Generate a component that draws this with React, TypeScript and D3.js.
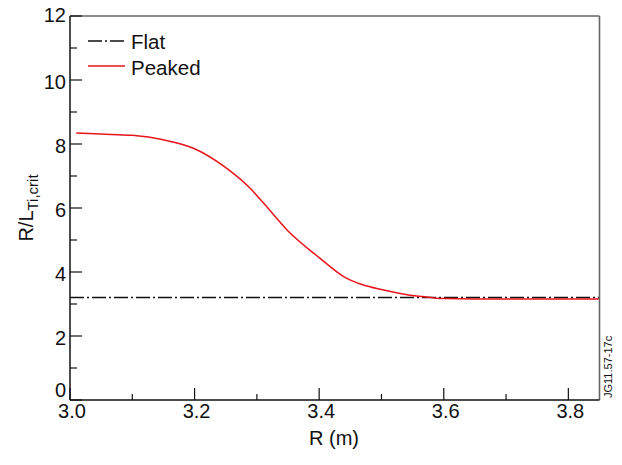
import React from "react";
import * as d3 from "d3";

const peakedR = [3.01, 3.05, 3.1, 3.15, 3.2, 3.25, 3.29, 3.31, 3.35, 3.4, 3.44, 3.47, 3.5, 3.53, 3.56, 3.58, 3.6, 3.65, 3.7, 3.8, 3.85];
const peakedV = [8.34, 8.31, 8.27, 8.13, 7.85, 7.26, 6.6, 6.17, 5.28, 4.45, 3.85, 3.6, 3.45, 3.33, 3.24, 3.2, 3.17, 3.16, 3.16, 3.16, 3.16];
const flatR = [3.0, 3.85];
const flatV = [3.2, 3.2];
const xMajor = [3.0, 3.2, 3.4, 3.6, 3.8];
const xMinor = [3.1, 3.3, 3.5, 3.7];
const yMajor = [0, 2, 4, 6, 8, 10, 12];
const yMinor = [1, 3, 5, 7, 9, 11];
const legendLabels = ["Flat", "Peaked"];

const W = 622, H = 465;
const L = 70, R = 599.5, T = 16, B = 400;
const FONT = "'Liberation Sans', Arial, Helvetica, sans-serif";

export default function App() {
  const x = d3.scaleLinear().domain([3.0, 3.85]).range([L, R]);
  const y = d3.scaleLinear().domain([0, 12]).range([B, T]);
  const line = d3.line<[number, number]>().x(d => x(d[0])).y(d => y(d[1])).curve(d3.curveMonotoneX);
  const peaked = peakedR.map((r, i) => [r, peakedV[i]] as [number, number]);
  const flat = flatR.map((r, i) => [r, flatV[i]] as [number, number]);
  const fs = 20;
  const yOff = (v: number) => (v === 0 ? -3 : v === 12 ? 6 : 9);
  return (
    <svg width={W} height={H} style={{ position: "absolute", left: 0, top: 0, fontFamily: FONT }}>
      <rect width={W} height={H} fill="#fff" />
      <defs>
        <clipPath id="clip"><rect x={L} y={T} width={R - L} height={B - T} /></clipPath>
      </defs>
      <g clipPath="url(#clip)">
        <path d={line(flat) || ""} fill="none" stroke="#111" strokeWidth={1.5} strokeDasharray="14,3,2,3" />
        <path d={line(peaked) || ""} fill="none" stroke="#e8141c" strokeWidth={1.5} />
      </g>
      {/* frame */}
      <line x1={L} y1={T} x2={R} y2={T} stroke="#666" strokeWidth={1.6} />
      <line x1={R} y1={T} x2={R} y2={B} stroke="#666" strokeWidth={1.6} />
      <line x1={L} y1={T} x2={L} y2={B} stroke="#111" strokeWidth={1.5} />
      <line x1={L} y1={B} x2={R} y2={B} stroke="#111" strokeWidth={1.5} />
      {/* y ticks */}
      {yMajor.map(v => (
        <g key={"ym" + v}>
          <line x1={L} x2={L + 12} y1={y(v)} y2={y(v)} stroke="#111" strokeWidth={1.2} />
          <text x={L - 4} y={y(v) + yOff(v)} textAnchor="end" fontSize={fs} fill="#111">{v}</text>
        </g>
      ))}
      {yMinor.map(v => (
        <line key={"yn" + v} x1={L} x2={L + 7} y1={y(v)} y2={y(v)} stroke="#111" strokeWidth={1.2} />
      ))}
      {/* x ticks */}
      {xMajor.map(v => (
        <g key={"xm" + v}>
          <line x1={x(v)} x2={x(v)} y1={B} y2={B - 12} stroke="#111" strokeWidth={1.2} />
          <text x={x(v) + 2} y={B + 18} textAnchor="middle" fontSize={fs} fill="#111">{v.toFixed(1)}</text>
        </g>
      ))}
      {xMinor.map(v => (
        <line key={"xn" + v} x1={x(v)} x2={x(v)} y1={B} y2={B - 6} stroke="#111" strokeWidth={1.2} />
      ))}
      {/* axis titles */}
      <text x={334} y={445} textAnchor="middle" fontSize={fs} fill="#111">R (m)</text>
      <text transform={`translate(33,${208}) rotate(-90)`} textAnchor="middle" fontSize={fs} fill="#111">
        R/L<tspan fontSize={15} dy={5}>Ti,crit</tspan>
      </text>
      {/* legend */}
      <line x1={88} x2={125} y1={41} y2={41} stroke="#111" strokeWidth={1.5} strokeDasharray="14,3,2,3" />
      <text x={131} y={49} fontSize={20.5} fill="#111">{legendLabels[0]}</text>
      <line x1={88} x2={125} y1={66} y2={66} stroke="#e8141c" strokeWidth={1.5} />
      <text x={131} y={75} fontSize={20.5} fill="#111">{legendLabels[1]}</text>
      {/* code */}
      <text transform={`translate(612,398) rotate(-90)`} fontSize={11} fill="#111">JG11.57-17c</text>
    </svg>
  );
}
